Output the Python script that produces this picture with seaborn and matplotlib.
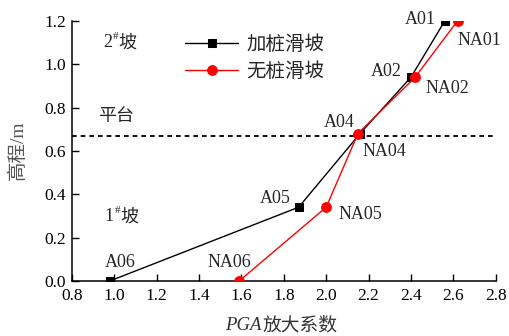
import matplotlib
matplotlib.use("Agg")
import matplotlib.pyplot as plt
from matplotlib.transforms import offset_copy
import seaborn as sns
import pandas as pd

# PGA amplification factor vs. elevation at each monitoring point
pile_x = [2.56, 2.40, 2.16, 1.87, 0.98]
pile_y = [1.20, 0.94, 0.68, 0.34, 0.00]
pile_names = ["A01", "A02", "A04", "A05", "A06"]

nopile_x = [2.62, 2.42, 2.15, 2.00, 1.59]
nopile_y = [1.20, 0.94, 0.68, 0.34, 0.00]
nopile_names = ["NA01", "NA02", "NA04", "NA05", "NA06"]

platform_y = 0.67
xticks = [0.8, 1.0, 1.2, 1.4, 1.6, 1.8, 2.0, 2.2, 2.4, 2.6, 2.8]
yticks = [0.0, 0.2, 0.4, 0.6, 0.8, 1.0, 1.2]

sns.set_theme(style="ticks")
FAM = ["Liberation Serif", "Noto Sans CJK SC"]
plt.rcParams["font.family"] = FAM

fig = plt.figure(figsize=(5.1, 3.36), dpi=100)
ax = fig.add_axes([0.141, 0.164, 0.831, 0.774])

pile_df = pd.DataFrame({"x": pile_x, "y": pile_y})
nopile_df = pd.DataFrame({"x": nopile_x, "y": nopile_y})

sns.lineplot(data=pile_df, x="x", y="y", sort=False, ax=ax, color="black",
             marker="s", markersize=6, markeredgecolor="black", linewidth=1.0,
             label="加桩滑坡", zorder=3)
sns.lineplot(data=nopile_df, x="x", y="y", sort=False, ax=ax, color="#ff0000",
             marker="o", markersize=7, markeredgecolor="#ff0000", linewidth=1.0,
             label="无桩滑坡", zorder=4)

ax.axhline(platform_y, color="black", linestyle=(0, (2.6, 2.2)), linewidth=1.3,
           zorder=1)

fs = 13
# point labels, offsets in points from each marker
pile_off = [(-18, 1), (-18, 4), (-15, 8), (-17, 6.5), (7.5, 13)]
nopile_off = [(16, -14), (23, -8), (19, -13), (24.5, -5.5), (-7, 13)]
for x, y, n, (dx, dy) in zip(pile_x, pile_y, pile_names, pile_off):
    ax.annotate(n, (x, y), xytext=(dx, dy), textcoords="offset points",
                fontsize=fs, va="center", ha="center")
for x, y, n, (dx, dy) in zip(nopile_x, nopile_y, nopile_names, nopile_off):
    ax.annotate(n, (x, y), xytext=(dx, dy), textcoords="offset points",
                fontsize=fs, va="center", ha="center")


def slope_label(xa, ya, num):
    """Slope number with a raised '#', followed by 坡."""
    base = ax.text(xa, ya, num, transform=ax.transAxes, fontsize=fs,
                   va="center", ha="left")
    tr = offset_copy(ax.transAxes, fig=fig, x=6.8, y=4.5, units="points")
    ax.text(xa, ya, "#", transform=tr, fontsize=8, va="center", ha="left")
    tr2 = offset_copy(ax.transAxes, fig=fig, x=11.0, y=0, units="points")
    ax.text(xa, ya, "坡", transform=tr2, fontsize=fs, va="center", ha="left")
    return base


slope_label((103 - 72) / 424, (281 - 43) / 260, "2")
ax.text((98 - 72) / 424, (281 - 117) / 260, "平台", transform=ax.transAxes,
        fontsize=fs, va="center", ha="left")
slope_label((105 - 72) / 424, (281 - 217) / 260, "1")

ax.set_xlim(0.8, 2.8)
ax.set_ylim(0.0, 1.2)
ax.set_xticks(xticks)
ax.set_yticks(yticks)
ax.set_xticklabels([f"{v:.1f}" for v in xticks])
ax.set_yticklabels([f"{v:.1f}" for v in yticks])
ax.tick_params(direction="in", length=5, width=1, labelsize=12.5, colors="black")
ax.tick_params(axis="x", pad=5)
ax.tick_params(axis="y", pad=4)
for s in ["left", "bottom"]:
    ax.spines[s].set_linewidth(1.1)
    ax.spines[s].set_color("black")
sns.despine(ax=ax)

# x label: italic "PGA" followed by the Chinese words
ax.set_xlabel("")
fig.text(262 / 510, 1 - 326 / 336, "PGA", fontsize=13.5, fontstyle="italic",
         family="Liberation Serif", color="#333333", ha="right", va="center")
fig.text(263 / 510, 1 - 326 / 336, "放大系数", fontsize=13.5, color="#333333",
         ha="left", va="center")

ax.set_ylabel("高程/m", fontsize=14, color="#555555")
ax.yaxis.label.set_verticalalignment("center")
ax.yaxis.label.set_rotation_mode("anchor")
ax.yaxis.set_label_coords((18 - 72) / 424, 0.504)

leg = ax.legend(loc="upper left", bbox_to_anchor=((185 - 72) / 424, 0.946),
                frameon=False, fontsize=14, handlelength=2.75,
                handletextpad=0.4, labelspacing=0.45, borderaxespad=0,
                borderpad=0)

fig.savefig("out.png", dpi=100)
